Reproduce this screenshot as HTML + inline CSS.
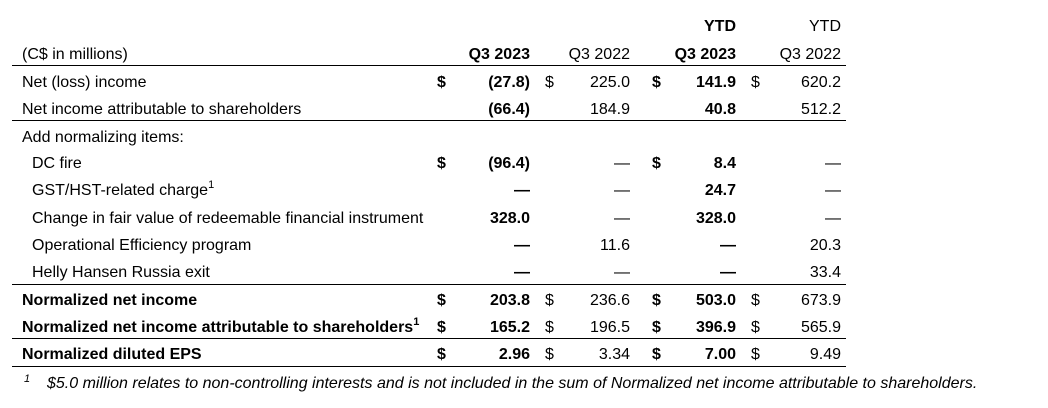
<!DOCTYPE html>
<html><head><style>
body{margin:0;width:1048px;height:408px;background:#fff;font-family:"Liberation Sans",Arial,sans-serif;font-size:16px;color:#000;position:relative;overflow:hidden}
.t{position:absolute;line-height:18px;white-space:nowrap;margin-top:2px}
.r{text-align:right;width:120px}
.b{font-weight:bold}
.l{position:absolute;left:12px;width:834px;height:0;border-top:1.5px solid #000}
sup{font-size:11px;line-height:0;vertical-align:7px}
</style></head><body>
<div class="t r b" style="left:616px;top:16px">YTD</div>
<div class="t r" style="left:721px;top:16px">YTD</div>
<div class="t" style="left:22px;top:44px">(C$ in millions)</div>
<div class="t r b" style="left:410px;top:44px">Q3 2023</div>
<div class="t r" style="left:510px;top:44px">Q3 2022</div>
<div class="t r b" style="left:616px;top:44px">Q3 2023</div>
<div class="t r" style="left:721px;top:44px">Q3 2022</div>
<div class="l" style="top:65px"></div>

<div class="t" style="left:22px;top:72px">Net (loss) income</div>
<div class="t b" style="left:437px;top:72px">$</div><div class="t r b" style="left:410px;top:72px">(27.8)</div>
<div class="t" style="left:545px;top:72px">$</div><div class="t r" style="left:510px;top:72px">225.0</div>
<div class="t b" style="left:652px;top:72px">$</div><div class="t r b" style="left:616px;top:72px">141.9</div>
<div class="t" style="left:751px;top:72px">$</div><div class="t r" style="left:721px;top:72px">620.2</div>

<div class="t" style="left:22px;top:99px">Net income attributable to shareholders</div>
<div class="t r b" style="left:410px;top:99px">(66.4)</div>
<div class="t r" style="left:510px;top:99px">184.9</div>
<div class="t r b" style="left:616px;top:99px">40.8</div>
<div class="t r" style="left:721px;top:99px">512.2</div>
<div class="l" style="top:120px"></div>

<div class="t" style="left:22px;top:127px">Add normalizing items:</div>

<div class="t" style="left:32px;top:153px">DC fire</div>
<div class="t b" style="left:437px;top:153px">$</div><div class="t r b" style="left:410px;top:153px">(96.4)</div>
<div class="t r" style="left:510px;top:153px">—</div>
<div class="t b" style="left:652px;top:153px">$</div><div class="t r b" style="left:616px;top:153px">8.4</div>
<div class="t r" style="left:721px;top:153px">—</div>

<div class="t" style="left:32px;top:180px">GST/HST-related charge<sup>1</sup></div>
<div class="t r b" style="left:410px;top:180px">—</div>
<div class="t r" style="left:510px;top:180px">—</div>
<div class="t r b" style="left:616px;top:180px">24.7</div>
<div class="t r" style="left:721px;top:180px">—</div>

<div class="t" style="left:32px;top:208px">Change in fair value of redeemable financial instrument</div>
<div class="t r b" style="left:410px;top:208px">328.0</div>
<div class="t r" style="left:510px;top:208px">—</div>
<div class="t r b" style="left:616px;top:208px">328.0</div>
<div class="t r" style="left:721px;top:208px">—</div>

<div class="t" style="left:32px;top:235px">Operational Efficiency program</div>
<div class="t r b" style="left:410px;top:235px">—</div>
<div class="t r" style="left:510px;top:235px">11.6</div>
<div class="t r b" style="left:616px;top:235px">—</div>
<div class="t r" style="left:721px;top:235px">20.3</div>

<div class="t" style="left:32px;top:262px">Helly Hansen Russia exit</div>
<div class="t r b" style="left:410px;top:262px">—</div>
<div class="t r" style="left:510px;top:262px">—</div>
<div class="t r b" style="left:616px;top:262px">—</div>
<div class="t r" style="left:721px;top:262px">33.4</div>
<div class="l" style="top:284px"></div>

<div class="t b" style="left:22px;top:290px">Normalized net income</div>
<div class="t b" style="left:437px;top:290px">$</div><div class="t r b" style="left:410px;top:290px">203.8</div>
<div class="t" style="left:545px;top:290px">$</div><div class="t r" style="left:510px;top:290px">236.6</div>
<div class="t b" style="left:652px;top:290px">$</div><div class="t r b" style="left:616px;top:290px">503.0</div>
<div class="t" style="left:751px;top:290px">$</div><div class="t r" style="left:721px;top:290px">673.9</div>

<div class="t b" style="left:22px;top:317px">Normalized net income attributable to shareholders<sup>1</sup></div>
<div class="t b" style="left:437px;top:317px">$</div><div class="t r b" style="left:410px;top:317px">165.2</div>
<div class="t" style="left:545px;top:317px">$</div><div class="t r" style="left:510px;top:317px">196.5</div>
<div class="t b" style="left:652px;top:317px">$</div><div class="t r b" style="left:616px;top:317px">396.9</div>
<div class="t" style="left:751px;top:317px">$</div><div class="t r" style="left:721px;top:317px">565.9</div>
<div class="l" style="top:338px"></div>

<div class="t b" style="left:22px;top:344px">Normalized diluted EPS</div>
<div class="t b" style="left:437px;top:344px">$</div><div class="t r b" style="left:410px;top:344px">2.96</div>
<div class="t" style="left:545px;top:344px">$</div><div class="t r" style="left:510px;top:344px">3.34</div>
<div class="t b" style="left:652px;top:344px">$</div><div class="t r b" style="left:616px;top:344px">7.00</div>
<div class="t" style="left:751px;top:344px">$</div><div class="t r" style="left:721px;top:344px">9.49</div>
<div class="l" style="top:366px"></div>

<div class="t" style="left:24px;top:368px;font-style:italic;font-size:11px">1</div>
<div class="t" style="left:47px;top:373px;font-style:italic">$5.0 million relates to non-controlling interests and is not included in the sum of Normalized net income attributable to shareholders.</div>
</body></html>
